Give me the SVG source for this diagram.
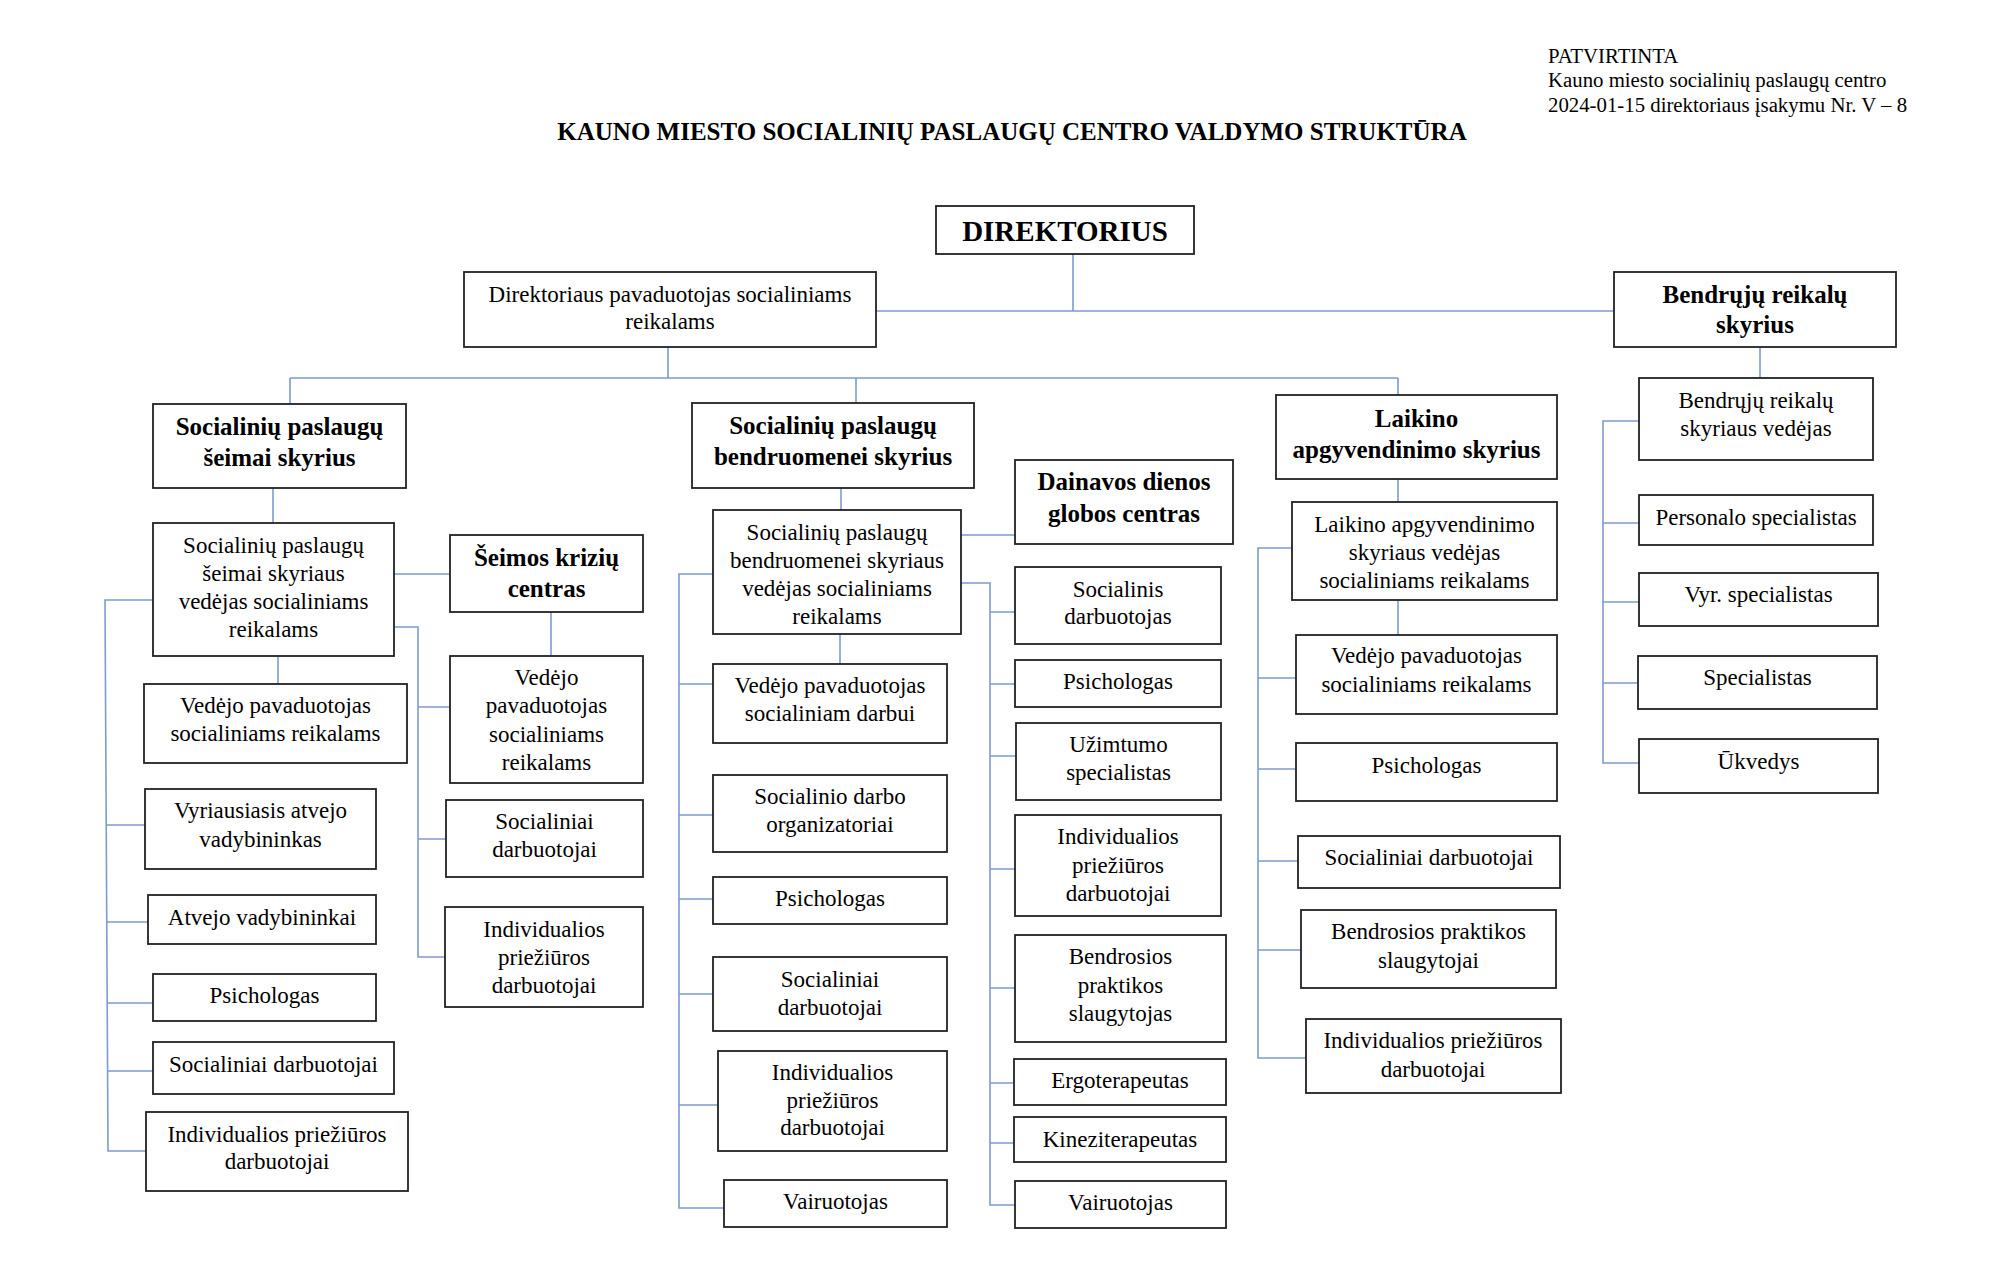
<svg xmlns="http://www.w3.org/2000/svg" width="2008" height="1276" viewBox="0 0 2008 1276">
<style>
.b{fill:#fff;stroke:#222;stroke-width:1.8}
.t{font-family:"Liberation Serif","Times New Roman",serif;font-size:23px;fill:#000;text-anchor:middle}
.h{font-family:"Liberation Serif","Times New Roman",serif;font-size:25px;font-weight:bold;fill:#000;text-anchor:middle}
.c{fill:none;stroke:#7e9bcf;stroke-width:1.6}
.n{font-family:"Liberation Serif","Times New Roman",serif;font-size:20.8px;fill:#000}
</style>
<rect width="2008" height="1276" fill="#fff"/>
<g id="approval">
<text class="n" x="1548" y="63">PATVIRTINTA</text>
<text class="n" x="1548" y="87">Kauno miesto socialinių paslaugų centro</text>
<text class="n" x="1548" y="112">2024-01-15 direktoriaus įsakymu Nr. V – 8</text>
</g>
<text id="title" class="h" x="1012" y="140">KAUNO MIESTO SOCIALINIŲ PASLAUGŲ CENTRO VALDYMO STRUKTŪRA</text>

<g id="connectors">
<path class="c" d="M1073 254V311M876 311H1614M1760 347V378M668 347V378M290 378H1398M290 378V404M856 378V403M1398 378V395"/>
<path class="c" d="M273 488V523M394 574H450M551 612V656M278 656V684"/>
<path class="c" d="M153 600H105L108 1151H146M107 825H145M107 922H148M107 1003H153M107 1071H153"/>
<path class="c" d="M394 627H418V957H445M418 707H450M418 839H446"/>
<path class="c" d="M841 488V510M961 535H1015M840 634V664"/>
<path class="c" d="M713 574H679V1208H724M679 684H713M679 815H713M679 899H713M679 994H713M679 1105H718"/>
<path class="c" d="M961 583H990V1205H1015M990 612H1015M990 684H1015M990 756H1016M990 869H1015M990 988H1015M990 1083H1014M990 1143H1014"/>
<path class="c" d="M1398 479V502M1398 600V635M1292 548H1258V1058H1306M1258 678H1296M1258 769H1296M1258 861H1298M1258 950H1301"/>
<path class="c" d="M1639 421H1603V763H1639M1603 523H1639M1603 602H1639M1603 683H1638"/>
</g>

<g id="direktorius"><rect class="b" x="936" y="206" width="258" height="48"/><text class="h" x="1065" y="241" style="font-size:29px">DIREKTORIUS</text></g>
<g id="pavaduotojas"><rect class="b" x="464" y="272" width="412" height="75"/><text class="t" x="670" y="302">Direktoriaus pavaduotojas socialiniams</text><text class="t" x="670" y="329">reikalams</text></g>
<g id="bendruju-skyrius"><rect class="b" x="1614" y="272" width="282" height="75"/><text class="h" x="1755" y="303">Bendrųjų reikalų</text><text class="h" x="1755" y="333">skyrius</text></g>

<g id="seimai-skyrius"><rect class="b" x="153" y="404" width="253" height="84"/><text class="h" x="279.5" y="435">Socialinių paslaugų</text><text class="h" x="279.5" y="466">šeimai skyrius</text></g>
<g id="seimai-vedejas"><rect class="b" x="153" y="523" width="241" height="133"/><text class="t" x="273.5" y="553">Socialinių paslaugų</text><text class="t" x="273.5" y="581">šeimai skyriaus</text><text class="t" x="273.5" y="609">vedėjas socialiniams</text><text class="t" x="273.5" y="637">reikalams</text></g>
<g id="kriziu-centras"><rect class="b" x="450" y="535" width="193" height="77"/><text class="h" x="546.5" y="566">Šeimos krizių</text><text class="h" x="546.5" y="597">centras</text></g>
<g id="kriziu-vedejo-pav"><rect class="b" x="450" y="656" width="193" height="127"/><text class="t" x="546.5" y="685">Vedėjo</text><text class="t" x="546.5" y="713">pavaduotojas</text><text class="t" x="546.5" y="742">socialiniams</text><text class="t" x="546.5" y="770">reikalams</text></g>
<g id="seimai-vedejo-pav"><rect class="b" x="144" y="684" width="263" height="79"/><text class="t" x="275.5" y="713">Vedėjo pavaduotojas</text><text class="t" x="275.5" y="741">socialiniams reikalams</text></g>
<g id="seimai-vyr-vadyb"><rect class="b" x="145" y="789" width="231" height="80"/><text class="t" x="260.5" y="818">Vyriausiasis atvejo</text><text class="t" x="260.5" y="847">vadybininkas</text></g>
<g id="seimai-atvejo"><rect class="b" x="148" y="895" width="228" height="49"/><text class="t" x="262" y="925">Atvejo vadybininkai</text></g>
<g id="seimai-psich"><rect class="b" x="153" y="974" width="223" height="47"/><text class="t" x="264.5" y="1003">Psichologas</text></g>
<g id="seimai-soc"><rect class="b" x="153" y="1042" width="241" height="52"/><text class="t" x="273.5" y="1072">Socialiniai darbuotojai</text></g>
<g id="seimai-ind"><rect class="b" x="146" y="1112" width="262" height="79"/><text class="t" x="277" y="1142">Individualios priežiūros</text><text class="t" x="277" y="1169">darbuotojai</text></g>
<g id="kriziu-soc"><rect class="b" x="446" y="800" width="197" height="77"/><text class="t" x="544.5" y="829">Socialiniai</text><text class="t" x="544.5" y="857">darbuotojai</text></g>
<g id="kriziu-ind"><rect class="b" x="445" y="907" width="198" height="100"/><text class="t" x="544" y="937">Individualios</text><text class="t" x="544" y="965">priežiūros</text><text class="t" x="544" y="993">darbuotojai</text></g>

<g id="bendr-skyrius"><rect class="b" x="692" y="403" width="282" height="85"/><text class="h" x="833" y="434">Socialinių paslaugų</text><text class="h" x="833" y="465">bendruomenei skyrius</text></g>
<g id="bendr-vedejas"><rect class="b" x="713" y="510" width="248" height="124"/><text class="t" x="837" y="540">Socialinių paslaugų</text><text class="t" x="837" y="568">bendruomenei skyriaus</text><text class="t" x="837" y="596">vedėjas socialiniams</text><text class="t" x="837" y="624">reikalams</text></g>
<g id="dainavos"><rect class="b" x="1015" y="460" width="218" height="84"/><text class="h" x="1124" y="490">Dainavos dienos</text><text class="h" x="1124" y="522">globos centras</text></g>
<g id="bendr-vedejo-pav"><rect class="b" x="713" y="664" width="234" height="79"/><text class="t" x="830" y="693">Vedėjo pavaduotojas</text><text class="t" x="830" y="721">socialiniam darbui</text></g>
<g id="bendr-org"><rect class="b" x="713" y="775" width="234" height="77"/><text class="t" x="830" y="804">Socialinio darbo</text><text class="t" x="830" y="832">organizatoriai</text></g>
<g id="bendr-psich"><rect class="b" x="713" y="877" width="234" height="47"/><text class="t" x="830" y="906">Psichologas</text></g>
<g id="bendr-soc"><rect class="b" x="713" y="957" width="234" height="74"/><text class="t" x="830" y="987">Socialiniai</text><text class="t" x="830" y="1015">darbuotojai</text></g>
<g id="bendr-ind"><rect class="b" x="718" y="1051" width="229" height="100"/><text class="t" x="832.5" y="1080">Individualios</text><text class="t" x="832.5" y="1108">priežiūros</text><text class="t" x="832.5" y="1135">darbuotojai</text></g>
<g id="bendr-vair"><rect class="b" x="724" y="1180" width="223" height="47"/><text class="t" x="835.5" y="1209">Vairuotojas</text></g>

<g id="dain-soc"><rect class="b" x="1015" y="567" width="206" height="77"/><text class="t" x="1118" y="597">Socialinis</text><text class="t" x="1118" y="624">darbuotojas</text></g>
<g id="dain-psich"><rect class="b" x="1015" y="660" width="206" height="47"/><text class="t" x="1118" y="689">Psichologas</text></g>
<g id="dain-uzimt"><rect class="b" x="1016" y="723" width="205" height="77"/><text class="t" x="1118.5" y="752">Užimtumo</text><text class="t" x="1118.5" y="780">specialistas</text></g>
<g id="dain-ind"><rect class="b" x="1015" y="815" width="206" height="101"/><text class="t" x="1118" y="844">Individualios</text><text class="t" x="1118" y="873">priežiūros</text><text class="t" x="1118" y="901">darbuotojai</text></g>
<g id="dain-slaug"><rect class="b" x="1015" y="935" width="211" height="107"/><text class="t" x="1120.5" y="964">Bendrosios</text><text class="t" x="1120.5" y="993">praktikos</text><text class="t" x="1120.5" y="1021">slaugytojas</text></g>
<g id="dain-ergo"><rect class="b" x="1014" y="1059" width="212" height="46"/><text class="t" x="1120" y="1088">Ergoterapeutas</text></g>
<g id="dain-kinez"><rect class="b" x="1014" y="1117" width="212" height="45"/><text class="t" x="1120" y="1147">Kineziterapeutas</text></g>
<g id="dain-vair"><rect class="b" x="1015" y="1181" width="211" height="47"/><text class="t" x="1120.5" y="1210">Vairuotojas</text></g>

<g id="laikino-skyrius"><rect class="b" x="1276" y="395" width="281" height="84"/><text class="h" x="1416.5" y="427">Laikino</text><text class="h" x="1416.5" y="458">apgyvendinimo skyrius</text></g>
<g id="laikino-vedejas"><rect class="b" x="1292" y="502" width="265" height="98"/><text class="t" x="1424.5" y="532">Laikino apgyvendinimo</text><text class="t" x="1424.5" y="560">skyriaus vedėjas</text><text class="t" x="1424.5" y="588">socialiniams reikalams</text></g>
<g id="laikino-vedejo-pav"><rect class="b" x="1296" y="635" width="261" height="79"/><text class="t" x="1426.5" y="663">Vedėjo pavaduotojas</text><text class="t" x="1426.5" y="692">socialiniams reikalams</text></g>
<g id="laikino-psich"><rect class="b" x="1296" y="743" width="261" height="58"/><text class="t" x="1426.5" y="773">Psichologas</text></g>
<g id="laikino-soc"><rect class="b" x="1298" y="836" width="262" height="52"/><text class="t" x="1429" y="865">Socialiniai darbuotojai</text></g>
<g id="laikino-slaug"><rect class="b" x="1301" y="910" width="255" height="78"/><text class="t" x="1428.5" y="939">Bendrosios praktikos</text><text class="t" x="1428.5" y="968">slaugytojai</text></g>
<g id="laikino-ind"><rect class="b" x="1306" y="1019" width="255" height="74"/><text class="t" x="1433" y="1048">Individualios priežiūros</text><text class="t" x="1433" y="1077">darbuotojai</text></g>

<g id="bendruju-vedejas"><rect class="b" x="1639" y="378" width="234" height="82"/><text class="t" x="1756" y="408">Bendrųjų reikalų</text><text class="t" x="1756" y="436">skyriaus vedėjas</text></g>
<g id="bendruju-personalo"><rect class="b" x="1639" y="495" width="234" height="50"/><text class="t" x="1756" y="525">Personalo specialistas</text></g>
<g id="bendruju-vyr"><rect class="b" x="1639" y="573" width="239" height="53"/><text class="t" x="1758.5" y="602">Vyr. specialistas</text></g>
<g id="bendruju-spec"><rect class="b" x="1638" y="656" width="239" height="53"/><text class="t" x="1757.5" y="685">Specialistas</text></g>
<g id="bendruju-ukvedys"><rect class="b" x="1639" y="739" width="239" height="54"/><text class="t" x="1758.5" y="769">Ūkvedys</text></g>
</svg>
